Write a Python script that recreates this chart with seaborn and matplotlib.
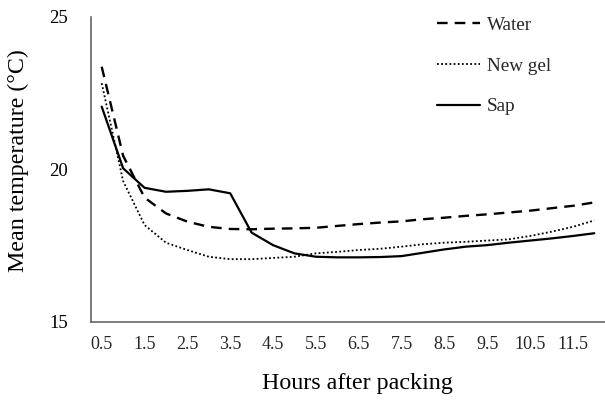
import matplotlib
matplotlib.use("Agg")
import matplotlib.pyplot as plt
import seaborn as sns
import pandas as pd

hours = [0.5, 1.0, 1.5, 2.0, 2.5, 3.0, 3.5, 4.0, 4.5, 5.0, 5.5, 6.0,
         6.5, 7.0, 7.5, 8.0, 8.5, 9.0, 9.5, 10.0, 10.5, 11.0, 11.5, 12.0]
water = [23.37, 20.45, 19.08, 18.56, 18.29, 18.12, 18.05, 18.04, 18.06, 18.07, 18.09, 18.15,
         18.21, 18.26, 18.30, 18.37, 18.42, 18.48, 18.53, 18.59, 18.65, 18.73, 18.81, 18.92]
new_gel = [22.83, 19.62, 18.18, 17.60, 17.36, 17.14, 17.06, 17.06, 17.10, 17.14, 17.25, 17.30,
           17.36, 17.40, 17.47, 17.55, 17.60, 17.63, 17.67, 17.71, 17.82, 17.96, 18.12, 18.33]
sap = [22.06, 20.04, 19.40, 19.27, 19.30, 19.35, 19.22, 17.93, 17.52, 17.25, 17.14, 17.12,
       17.12, 17.13, 17.16, 17.27, 17.38, 17.47, 17.52, 17.60, 17.67, 17.74, 17.82, 17.91]
series_names = ["Water", "New gel", "Sap"]
tick_labels = ["0.5", "1.5", "2.5", "3.5", "4.5", "5.5", "6.5", "7.5", "8.5", "9.5", "10.5", "11.5"]

df = pd.DataFrame({
    "hours": hours * 3,
    "temp": water + new_gel + sap,
    "series": ["Water"] * len(hours) + ["New gel"] * len(hours) + ["Sap"] * len(hours),
})

sns.set_theme(style="white")
plt.rcParams["font.family"] = ["Liberation Serif", "DejaVu Serif"]

fig = plt.figure(figsize=(6.05, 4.09), dpi=100)
ax = fig.add_axes([91 / 605, 1 - 322 / 409, 514 / 605, 305 / 409])

styles = {"Water": dict(lw=1.7, dashes=(4.5, 3.0)),
          "New gel": dict(lw=1.3, dashes=(1.0, 1.3)),
          "Sap": dict(lw=1.6, dashes=())}
for name in series_names:
    sub = df[df["series"] == name]
    st = styles[name]
    sns.lineplot(data=sub, x="hours", y="temp", ax=ax, color="black",
                 linewidth=st["lw"], label=name)
    line = ax.get_lines()[-1]
    if st["dashes"]:
        line.set_dashes(st["dashes"])

ax.set_xlim(0.25, 12.25)
ax.set_ylim(15, 25)
ax.set_yticks([15, 20, 25])
ax.set_xticks([1.25 + i for i in range(12)])
ax.set_xticklabels([])
ax.set_xticks([0.5 + i for i in range(12)], minor=True)
ax.set_xticklabels(tick_labels, minor=True)
ax.tick_params(axis="x", which="major", direction="in", length=5, width=1, color="#555555")
ax.tick_params(axis="x", which="minor", length=0, pad=10, labelsize=13)
ax.tick_params(axis="y", direction="out", length=5, width=1, color="#555555", pad=11.5, labelsize=13.5)
ax.tick_params(colors="black", labelcolor="black")

for s in ["top", "right"]:
    ax.spines[s].set_visible(False)
for s in ["left", "bottom"]:
    ax.spines[s].set_color("#666666")
    ax.spines[s].set_linewidth(1.2)

ax.set_xlabel("Hours after packing", fontsize=17.3, color="black")
ax.xaxis.set_label_coords(357 / 605, 1 - 383 / 409, transform=fig.transFigure)
ax.xaxis.label.set_va("center")
ax.set_ylabel("Mean temperature (°C)", fontsize=17.3, color="black")
ax.yaxis.set_label_coords(18 / 605, 1 - 161 / 409, transform=fig.transFigure)
ax.yaxis.label.set_va("center")

leg = ax.legend(loc="upper left", bbox_to_anchor=(427 / 605, 1 - 7 / 409),
                bbox_transform=fig.transFigure, frameon=False, fontsize=13.75,
                handlelength=2.3, handletextpad=0.35, labelspacing=1.22, borderpad=0)
for h in leg.get_lines():
    h.set_color("black")

fig.savefig("out.png", dpi=100)
